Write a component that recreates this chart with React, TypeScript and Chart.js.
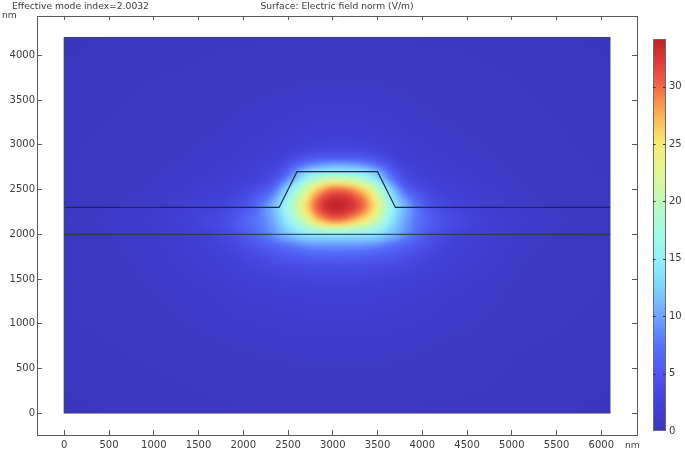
import React, { useEffect, useRef } from "react";
import { Chart, registerables } from "chart.js";

Chart.register(...registerables);

const ribX = [0, 2400, 2600, 3500, 3700, 6100];
const ribY = [2300, 2300, 2700, 2700, 2300, 2300];
const slabX = [0, 6100];
const slabY = [2000, 2000];
const domainX = [0, 6100, 6100, 0, 0];
const domainY = [0, 0, 4200, 4200, 0];

const xTickValues = [0, 500, 1000, 1500, 2000, 2500, 3000, 3500, 4000, 4500, 5000, 5500, 6000];
const yTickValues = [0, 500, 1000, 1500, 2000, 2500, 3000, 3500, 4000];

const gridX = [0, 1000, 1500, 1800, 2050, 2300, 2450, 2690, 2850, 3050, 3300, 3475, 3675, 3830, 4055, 4300, 4700, 5200, 6100];
const gridY = [0, 600, 1000, 1300, 1500, 1700, 1850, 2000, 2150, 2320, 2500, 2620, 2700, 2780, 2870, 3000, 3200, 3600, 4200];
const fieldRows = [
  [.1, .2, .25, .3, .35, .35, .4, .4, .4, .4, .4, .4, .4, .35, .3, .3, .25, .2, .1],
  [.2, .4, .55, .65, .75, .8, .85, .9, .9, .9, .9, .9, .85, .8, .7, .6, .5, .3, .2],
  [.3, .6, .9, 1.1, 1.2, 1.35, 1.4, 1.5, 1.5, 1.5, 1.5, 1.45, 1.4, 1.3, 1.15, 1, .8, .5, .25],
  [.35, .8, 1.1, 1.4, 1.7, 1.9, 2, 2.1, 2.2, 2.2, 2.2, 2.1, 2, 1.8, 1.6, 1.3, 1, .6, .3],
  [.4, .9, 1.4, 1.8, 2.2, 2.5, 2.7, 2.9, 3, 3, 3, 2.8, 2.6, 2.4, 2, 1.7, 1.2, .7, .35],
  [.45, 1, 1.7, 2.3, 3, 3.8, 4.2, 4.8, 5, 5, 4.9, 4.6, 4.1, 3.6, 2.8, 2.2, 1.5, .8, .4],
  [.5, 1.1, 2, 2.8, 4, 5.5, 6.5, 8, 8.4, 8.5, 8.3, 7.7, 6.5, 5.3, 3.8, 2.6, 1.7, .9, .4],
  [.5, 1.2, 2.2, 3.5, 5.5, 8.5, 11, 14, 14.8, 15, 14.7, 14, 11, 8.5, 5, 3.2, 1.9, 1, .5],
  [.6, 1.4, 2.8, 4, 6.5, 9.5, 13.5, 21, 26.5, 29, 25.5, 21, 13.5, 9.5, 6, 4, 2.2, 1.2, .5],
  [.5, 1.2, 2.2, 3, 5, 10, 15, 25, 31.5, 34, 31, 25, 15, 10, 5, 3, 1.8, 1, .5],
  [.4, .9, 1.6, 2.2, 3.3, 6, 11.5, 21, 27, 30, 27, 21, 11.5, 6, 3.2, 2.2, 1.4, .8, .4],
  [.35, .8, 1.3, 1.7, 2.4, 3.6, 7, 15.5, 19, 21, 18.5, 14.5, 7, 3.5, 2.4, 1.7, 1.2, .7, .35],
  [.35, .75, 1.15, 1.5, 2, 3.2, 5, 12, 14, 15, 14, 11.5, 5.5, 3.2, 2, 1.5, 1.1, .65, .3],
  [.35, .7, 1.05, 1.35, 1.75, 2.5, 3.6, 7.5, 9.3, 10, 9.2, 7, 3.6, 2.4, 1.7, 1.35, 1, .6, .3],
  [.3, .65, .95, 1.2, 1.5, 2, 2.5, 4.2, 4.8, 5, 4.8, 4, 2.5, 1.9, 1.5, 1.2, .9, .55, .3],
  [.3, .6, .85, 1.05, 1.3, 1.6, 1.85, 2.4, 2.7, 2.8, 2.7, 2.4, 1.85, 1.55, 1.25, 1.05, .8, .5, .25],
  [.25, .5, .7, .85, 1.05, 1.25, 1.4, 1.65, 1.8, 1.8, 1.8, 1.6, 1.4, 1.2, 1, .85, .65, .45, .25],
  [.2, .4, .5, .6, .7, .8, .85, .95, 1, 1, 1, .95, .85, .8, .7, .6, .5, .35, .2],
  [.1, .2, .25, .3, .3, .35, .4, .4, .4, .4, .4, .4, .4, .35, .3, .3, .25, .2, .1],
];

const colorStops = [0, 2.5, 5, 7.5, 10, 12.5, 15, 17.5, 20, 22.5, 25, 27, 28.5, 30, 32, 34.1];
const colorValues = [
  [58, 54, 190], [64, 65, 215], [80, 85, 240], [85, 115, 250], [110, 165, 255], [125, 210, 255],
  [150, 240, 250], [165, 250, 225], [190, 250, 185], [225, 245, 150], [248, 235, 115], [250, 190, 90],
  [248, 150, 80], [240, 105, 70], [225, 60, 60], [190, 35, 40],
];
const colorbarMax = 34.1;
const colorbarTicks = [5, 10, 15, 20, 25, 30];
const colorbarTickValues = [0, 5, 10, 15, 20, 25, 30];

const leftTitle = "Effective mode index=2.0032";
const centerTitle = "Surface: Electric field norm (V/m)";
const unitLabel = "nm";

const INK = "#5a5a5a";
const TEXT = "#3c3c3c";
const FONT = { family: "'DejaVu Sans'", size: 10 };

function segment(arr: number[], v: number) {
  let i = 0;
  while (i < arr.length - 2 && v > arr[i + 1]) i++;
  return [i, Math.min(1, Math.max(0, (v - arr[i]) / (arr[i + 1] - arr[i])))];
}

// Cubic Hermite reading of one table line, with slopes from its neighbours.
function hermite(axis: number[], at: (k: number) => number, i: number, t: number) {
  const h = axis[i + 1] - axis[i];
  const p0 = at(i);
  const p1 = at(i + 1);
  const m0 = i > 0 ? ((p1 - at(i - 1)) / (axis[i + 1] - axis[i - 1])) * h : p1 - p0;
  const m1 = i < axis.length - 2 ? ((at(i + 2) - p0) / (axis[i + 2] - axis[i])) * h : p1 - p0;
  const t2 = t * t;
  const t3 = t2 * t;
  return (2 * t3 - 3 * t2 + 1) * p0 + (t3 - 2 * t2 + t) * m0 + (-2 * t3 + 3 * t2) * p1 + (t3 - t2) * m1;
}

function fieldAt(x: number, y: number) {
  const [i, u] = segment(gridX, x);
  const [j, v] = segment(gridY, y);
  const along = (k: number) => hermite(gridX, (c) => fieldRows[k][c], i, u);
  return Math.max(0, hermite(gridY, along, j, v));
}

function colorFor(value: number) {
  const [i, t] = segment(colorStops, value);
  return [0, 1, 2].map((k) => colorValues[i][k] * (1 - t) + colorValues[i + 1][k] * t);
}

const fieldPlugin = {
  id: "field",
  beforeDatasetsDraw(chart: any) {
    const { ctx, scales } = chart;
    const x0 = Math.round(scales.x.getPixelForValue(0));
    const x1 = Math.round(scales.x.getPixelForValue(6100));
    const y0 = Math.round(scales.y.getPixelForValue(4200));
    const y1 = Math.round(scales.y.getPixelForValue(0));
    const m = 6;
    const w = x1 - x0 + 2 * m;
    const h = y1 - y0 + 2 * m;
    const off = document.createElement("canvas");
    off.width = w;
    off.height = h;
    const octx = off.getContext("2d")!;
    const img = octx.createImageData(w, h);
    for (let r = 0; r < h; r++) {
      const yv = scales.y.getValueForPixel(y0 - m + r + 0.5);
      for (let c = 0; c < w; c++) {
        const xv = scales.x.getValueForPixel(x0 - m + c + 0.5);
        const col = colorFor(fieldAt(xv, yv));
        const p = (r * w + c) * 4;
        img.data[p] = col[0];
        img.data[p + 1] = col[1];
        img.data[p + 2] = col[2];
        img.data[p + 3] = 255;
      }
    }
    octx.putImageData(img, 0, 0);
    ctx.save();
    ctx.beginPath();
    ctx.rect(x0, y0, x1 - x0, y1 - y0);
    ctx.clip();
    (ctx as any).filter = "blur(2px)";
    ctx.drawImage(off, x0 - m, y0 - m);
    ctx.restore();
  },
  afterDraw(chart: any) {
    const { ctx, scales } = chart;
    const cb = scales.cb;
    const left = 653;
    const width = 12;
    const top = cb.getPixelForValue(colorbarMax);
    const bottom = cb.getPixelForValue(0);
    ctx.save();
    for (let py = Math.floor(top); py < bottom; py++) {
      const col = colorFor(Math.max(0, cb.getValueForPixel(py + 0.5)));
      ctx.fillStyle = `rgb(${col.map(Math.round).join(",")})`;
      ctx.fillRect(left, py, width, 1);
    }
    ctx.strokeStyle = "#6a6a6a";
    ctx.lineWidth = 1;
    ctx.strokeRect(left + 0.5, Math.floor(top) + 0.5, width, Math.round(bottom - top));
    ctx.strokeStyle = "#333";
    for (const t of colorbarTicks) {
      const py = Math.round(cb.getPixelForValue(t)) + 0.5;
      ctx.beginPath();
      ctx.moveTo(left, py);
      ctx.lineTo(left + 2.5, py);
      ctx.moveTo(left + width - 2, py);
      ctx.lineTo(left + width + 0.5, py);
      ctx.stroke();
    }
    ctx.fillStyle = TEXT;
    ctx.font = "9.2px 'DejaVu Sans'";
    ctx.textBaseline = "middle";
    ctx.textAlign = "left";
    ctx.fillText(leftTitle, 12, 6.5);
    ctx.fillText(unitLabel, 2, 16);
    ctx.fillText(unitLabel, 625, 446);
    ctx.textAlign = "center";
    ctx.fillText(centerTitle, 337, 6.5);
    ctx.restore();
  },
};

const lineStyle = { showLine: true, pointRadius: 0, fill: false, borderJoinStyle: "miter" as const };
const zip = (xs: number[], ys: number[]) => xs.map((x, i) => ({ x, y: ys[i] }));

const tickGrid = (len: number) => ({ drawOnChartArea: false, drawTicks: true, tickLength: len, color: INK, lineWidth: 1 });
const border = { display: true, color: INK, width: 1 };
const setTicks = (values: number[]) => (s: any) => { s.ticks = values.map((value) => ({ value })); };
const fitTo = (side: "width" | "height", size: number) => (s: any) => {
  s[side] = size;
  s.paddingTop = s.paddingBottom = s.paddingLeft = s.paddingRight = 0;
};
const plain = (v: any) => String(v);

export default function App() {
  const ref = useRef<HTMLCanvasElement>(null);
  useEffect(() => {
    document.body.style.margin = "0";
    const chart = new Chart(ref.current!, {
      type: "scatter",
      data: {
        datasets: [
          { label: "domain", data: zip(domainX, domainY), borderColor: "rgba(70,70,95,0.85)", borderWidth: 0.8, ...lineStyle },
          { label: "rib", data: zip(ribX, ribY), borderColor: "#1f2a3a", borderWidth: 1.2, ...lineStyle },
          { label: "slab", data: zip(slabX, slabY), borderColor: "#2a3546", borderWidth: 1, ...lineStyle },
        ],
      },
      options: {
        responsive: false,
        animation: false,
        layout: { padding: 0 },
        plugins: { legend: { display: false }, tooltip: { enabled: false } },
        scales: {
          x: {
            type: "linear", position: "bottom", min: -305, max: 6399,
            afterBuildTicks: setTicks(xTickValues),
            grid: tickGrid(-5), border,
            ticks: { maxRotation: 0, autoSkip: false, padding: 9, color: TEXT, font: FONT, callback: plain },
            afterFit: fitTo("height", 16),
          },
          xTop: {
            type: "linear", position: "top", min: -305, max: 6399,
            afterBuildTicks: setTicks(xTickValues),
            grid: tickGrid(-4), border,
            ticks: { display: false, autoSkip: false },
            afterFit: fitTo("height", 16),
          },
          y: {
            type: "linear", position: "left", min: -242, max: 4439,
            afterBuildTicks: setTicks(yTickValues),
            grid: tickGrid(-5), border,
            ticks: { autoSkip: false, padding: 7, color: TEXT, font: FONT, callback: plain },
            afterFit: fitTo("width", 37),
          },
          yRight: {
            type: "linear", position: "right", weight: 0, min: -242, max: 4439,
            afterBuildTicks: setTicks(yTickValues),
            grid: tickGrid(-5), border,
            ticks: { display: false, autoSkip: false },
            afterFit: fitTo("width", 0),
          },
          cb: {
            type: "linear", position: "right", weight: 1, min: -0.35, max: 36.15,
            afterBuildTicks: setTicks(colorbarTickValues),
            grid: { display: false, drawTicks: false, tickLength: 0 },
            border: { display: false },
            ticks: { autoSkip: false, padding: 32, color: TEXT, font: FONT, callback: plain },
            afterFit: fitTo("width", 48),
          },
        },
      } as any,
      plugins: [fieldPlugin],
    });
    return () => chart.destroy();
  }, []);
  return <canvas ref={ref} width={685} height={451} style={{ display: "block" }} />;
}
